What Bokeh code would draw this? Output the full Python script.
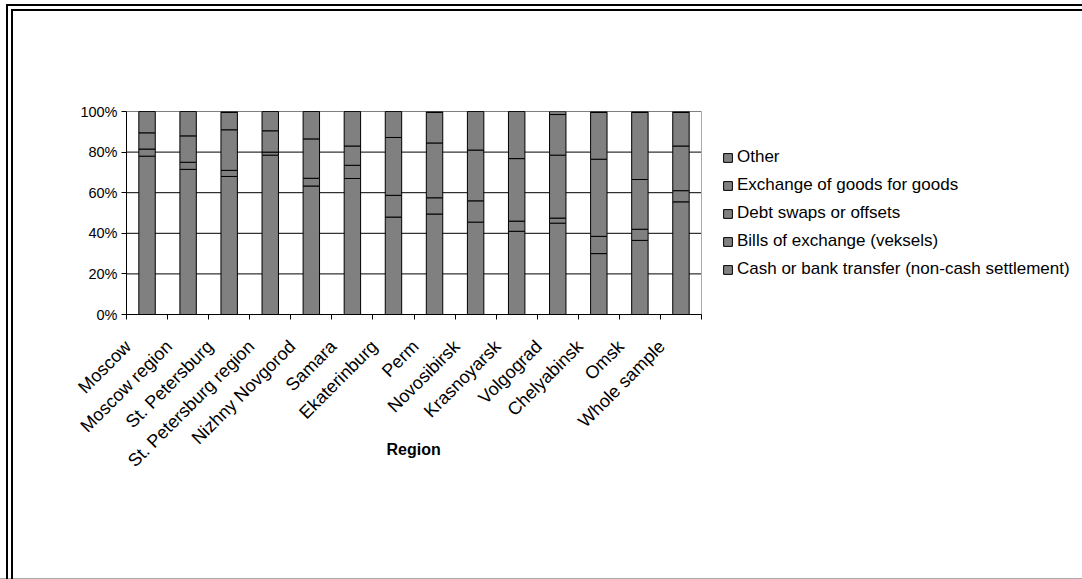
import math
from bokeh.plotting import figure
from bokeh.models import (ColumnDataSource, Range1d, FixedTicker, PrintfTickFormatter,
                          Legend, LegendItem, Title)
from bokeh.embed import file_html
from bokeh.resources import INLINE

regions = ["Moscow", "Moscow region", "St. Petersburg", "St. Petersburg region",
           "Nizhny Novgorod", "Samara", "Ekaterinburg", "Perm", "Novosibirsk",
           "Krasnoyarsk", "Volgograd", "Chelyabinsk", "Omsk", "Whole sample"]
cash = [78, 71.5, 68, 78.5, 63.3, 67, 48, 49.5, 45.5, 41, 45, 30, 36.5, 55.5]
bills = [3.5, 3.5, 3, 1.5, 3.8, 6.5, 10.7, 8, 10.5, 5, 2.5, 8.5, 5.5, 5.5]
debt = [8, 13, 20, 10.5, 19.4, 9.5, 28.5, 27, 25, 30.8, 31, 38, 24.5, 22]
exchange = [10.5, 12, 8.5, 9.5, 13.5, 17, 12.8, 15, 19, 23.2, 20, 23, 33, 16.5]
other = [0, 0, 0.5, 0, 0, 0, 0, 0.5, 0, 0, 1.5, 0.5, 0.5, 0.5]

series = ["cash", "bills", "debt", "exchange", "other"]
series_labels = ["Cash or bank transfer (non-cash settlement)",
                 "Bills of exchange (veksels)",
                 "Debt swaps or offsets",
                 "Exchange of goods for goods",
                 "Other"]
y_ticks = [0, 20, 40, 60, 80, 100]
x_title = "Region"

n = len(regions)
xpos = [i + 0.5 for i in range(n)]
source = ColumnDataSource(data=dict(x=xpos, cash=cash, bills=bills, debt=debt,
                                    exchange=exchange, other=other))

FONT = "Liberation Sans"
W, H = 1082, 579
LEFT, PLOT_W = 126, 575
unit_px = PLOT_W / n
x_end = n * (W - LEFT) / PLOT_W  # frame spans to the right edge; plot area is 0..n
label_shift = 19 / unit_px       # rotated labels sit slightly left of bar centres

p = figure(width=W, height=H, output_backend="svg", toolbar_location=None,
           x_range=Range1d(0, x_end), y_range=Range1d(0, 100),
           min_border_left=LEFT, min_border_right=0,
           min_border_top=111, min_border_bottom=265)

p.border_fill_color = None
p.background_fill_color = "white"
p.outline_line_color = None
p.styles = {
    "background-color": "white",
    "background-image": ", ".join(["linear-gradient(#000,#000)"] * 4 +
                                  ["linear-gradient(#aaa,#aaa)"]),
    "background-repeat": "no-repeat",
    "background-position": "6px 4px, 6px 4px, 11px 9px, 11px 9px, 0px 578px",
    "background-size": "100% 2px, 2px 100%, 100% 2px, 2px 100%, 100% 1px",
}

p.xgrid.visible = False
p.ygrid.visible = False

# horizontal gridlines limited to the plot area (0..n)
p.segment(x0=[0] * len(y_ticks), x1=[n] * len(y_ticks), y0=y_ticks, y1=y_ticks,
          line_color="black", line_width=1)
# right border of the plot area
p.segment(x0=[n], x1=[n], y0=[0], y1=[100], line_color="#aaaaaa", line_width=1)

renderers = p.vbar_stack(series, x="x", width=0.4, source=source,
                         fill_color="#808080", line_color="black", line_width=1)

yax = p.yaxis[0]
yax.ticker = FixedTicker(ticks=y_ticks)
yax.formatter = PrintfTickFormatter(format="%d%%")
yax.major_tick_in = 0
yax.major_tick_out = 5
yax.minor_tick_line_color = None
yax.axis_line_color = "black"
yax.major_tick_line_color = "black"
yax.major_label_text_font = FONT
yax.major_label_text_font_size = "14.5px"
yax.major_label_text_color = "black"
yax.major_label_standoff = 4

label_pos = [x - label_shift for x in xpos]
xax = p.xaxis[0]
xax.bounds = (0, n)
xax.ticker = FixedTicker(ticks=label_pos, minor_ticks=list(range(n + 1)))
xax.major_label_overrides = {x: r for x, r in zip(label_pos, regions)}
xax.major_tick_in = 0
xax.major_tick_out = 0
xax.minor_tick_in = 0
xax.minor_tick_out = 5
xax.minor_tick_line_color = "black"
xax.axis_line_color = "black"
xax.major_label_orientation = math.pi / 4
xax.major_label_text_font = FONT
xax.major_label_text_font_size = "18px"
xax.major_label_text_color = "black"
xax.major_label_standoff = 24

# axis title "Region" (centred under the plot area, below the rotated labels)
title = Title(text=x_title, align="left", offset=413 - LEFT - 27, standoff=-80,
              vertical_align="top", text_font=FONT, text_font_size="16px",
              text_font_style="bold", text_color="black")
p.add_layout(title, "below")

# legend
items = [LegendItem(label=lab, renderers=[r]) for lab, r in zip(series_labels, renderers)]
items = items[::-1]
legend = Legend(items=items, location=(596, 35), orientation="vertical")
legend.border_line_color = None
legend.background_fill_alpha = 0
legend.padding = 0
legend.margin = 0
legend.spacing = 8
legend.label_height = 20
legend.glyph_width = 11
legend.glyph_height = 11
legend.label_standoff = 4
legend.label_text_font = FONT
legend.label_text_font_size = "17px"
legend.label_text_color = "black"
p.add_layout(legend, "center")

open("out.html", "w").write(file_html(p, INLINE))
